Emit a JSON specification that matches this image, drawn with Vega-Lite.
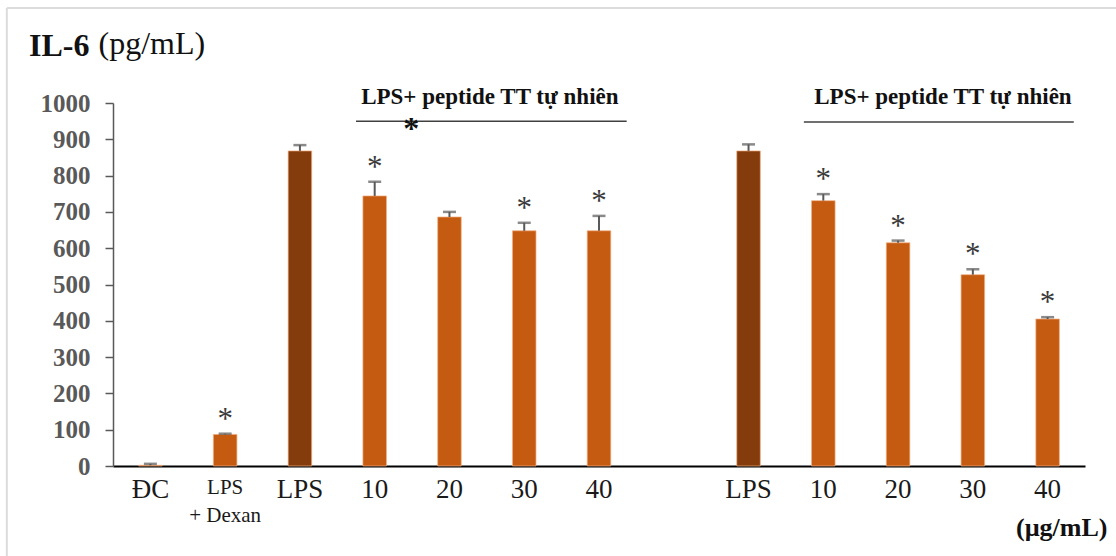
{
  "$schema": "https://vega.github.io/schema/vega-lite/v6.json",
  "width": 972,
  "height": 363,
  "autosize": {"type": "none"},
  "padding": {"left": 113, "top": 103, "right": 31, "bottom": 90},
  "background": "white",
  "config": {
    "view": {"stroke": null},
    "font": "Liberation Serif",
    "axisY": {
      "titleAngle": 0,
      "titleAlign": "left",
      "titleBaseline": "alphabetic",
      "titleX": -15,
      "titleY": -50,
      "titleFont": "Liberation Serif",
      "titleFontSize": 32,
      "titleFontWeight": "normal",
      "titleColor": "#111111",
      "tickCount": 11,
      "format": "d",
      "labelOverlap": false,
      "labelFont": "Liberation Serif",
      "labelFontSize": 25,
      "labelFontWeight": "bold",
      "labelColor": "#595959",
      "labelPadding": 15,
      "tickColor": "#595959",
      "tickSize": 8,
      "tickWidth": 1.5,
      "domainColor": "#595959",
      "domainWidth": 1.5,
      "grid": false
    }
  },
  "title": {
    "text": "IL-6",
    "anchor": "start",
    "frame": "group",
    "font": "Liberation Serif",
    "fontSize": 32,
    "fontWeight": "bold",
    "color": "#111111",
    "dx": -84,
    "offset": -56
  },
  "datasets": {
    "il6": [
      {"k": "DC", "kind": "treat", "v": 2, "hi": 6, "star": ""},
      {"k": "Dex", "kind": "treat", "v": 87, "hi": 89, "star": "*"},
      {"k": "LPS1", "kind": "lps", "v": 868, "hi": 884, "star": ""},
      {"k": "A10", "kind": "treat", "v": 744, "hi": 783, "star": "*"},
      {"k": "A20", "kind": "treat", "v": 686, "hi": 700, "star": ""},
      {"k": "A30", "kind": "treat", "v": 648, "hi": 670, "star": "*"},
      {"k": "A40", "kind": "treat", "v": 648, "hi": 689, "star": "*"},
      {"k": "LPS2", "kind": "lps", "v": 868, "hi": 886, "star": ""},
      {"k": "B10", "kind": "treat", "v": 731, "hi": 749, "star": "*"},
      {"k": "B20", "kind": "treat", "v": 615, "hi": 621, "star": "*"},
      {"k": "B30", "kind": "treat", "v": 527, "hi": 542, "star": "*"},
      {"k": "B40", "kind": "treat", "v": 405, "hi": 410, "star": "*"}
    ],
    "brackets": [
      {"x1": 3.25, "x2": 6.87, "yv": 950, "xc": 5.04, "ty": 1016, "t": "LPS+ peptide TT tự nhiên"},
      {"x1": 9.24, "x2": 12.85, "yv": 948, "xc": 11.1, "ty": 1016, "t": "LPS+ peptide TT tự nhiên"}
    ],
    "bracketStar": [{"xc": 3.99, "yv": 950, "t": "*"}],
    "frame": [
      {"x1": -1.42, "x2": 13.6, "y1": 1262, "y2": 1262},
      {"x1": -1.42, "x2": -1.42, "y1": 1262, "y2": -260}
    ]
  },
  "layer": [
    {
      "data": {"name": "il6"},
      "encoding": {
        "x": {
          "field": "k",
          "type": "nominal",
          "sort": null,
          "scale": {
            "domain": ["DC", "Dex", "LPS1", "A10", "A20", "A30", "A40", "gap", "LPS2", "B10", "B20", "B30", "B40"],
            "paddingInner": 0.685,
            "paddingOuter": 0.3425
          },
          "axis": {
            "title": "(µg/mL)",
            "titleFont": "Liberation Serif",
            "titleFontSize": 26,
            "titleFontWeight": "bold",
            "titleColor": "#111111",
            "titleX": 994,
            "titleY": 69,
            "titleAlign": "right",
            "titleAnchor": null,
            "titleBaseline": "alphabetic",
            "labelAngle": 0,
            "labelOverlap": false,
            "labelExpr": "datum.value == 'Dex' ? ['LPS', '+ Dexan'] : datum.value == 'DC' ? 'ĐC' : datum.value == 'gap' ? '' : indexof(datum.value, 'LPS') == 0 ? 'LPS' : slice(datum.value, 1)",
            "labelFont": "Liberation Serif",
            "labelFontSize": {"condition": {"test": "datum.value == 'Dex'", "value": 21}, "value": 27},
            "labelLineHeight": 28,
            "labelColor": "#1a1a1a",
            "labelPadding": 10,
            "labelBaseline": "top",
            "ticks": false,
            "domainColor": "#000000",
            "domainWidth": 2,
            "grid": false
          }
        }
      },
      "layer": [
        {
          "mark": {"type": "bar", "stroke": "#F4B183", "strokeWidth": 1, "strokeOpacity": 0.7},
          "encoding": {
            "y": {
              "field": "v",
              "type": "quantitative",
              "title": "(pg/mL)",
              "scale": {"domain": [0, 1000], "nice": false}
            },
            "color": {
              "field": "kind",
              "type": "nominal",
              "scale": {"domain": ["lps", "treat"], "range": ["#843C0C", "#C55A11"]},
              "legend": null
            }
          }
        },
        {
          "mark": {"type": "rule", "color": "#595959", "strokeWidth": 2},
          "encoding": {
            "y": {"field": "v", "type": "quantitative", "title": "(pg/mL)"},
            "y2": {"field": "hi"}
          }
        },
        {
          "mark": {"type": "tick", "color": "#595959", "size": 13, "thickness": 2.5, "orient": "horizontal"},
          "encoding": {
            "y": {"field": "hi", "type": "quantitative", "title": "(pg/mL)"}
          }
        },
        {
          "mark": {"type": "text", "font": "Liberation Serif", "fontSize": 31, "color": "#3a3a3a", "baseline": "alphabetic", "dy": -5},
          "encoding": {
            "y": {"field": "hi", "type": "quantitative", "title": "(pg/mL)"},
            "text": {"field": "star"}
          }
        }
      ]
    },
    {
      "layer": [
        {
          "data": {"name": "frame"},
          "mark": {"type": "rule", "color": "#dcdcdc", "strokeWidth": 2},
          "encoding": {
            "x": {"field": "x1", "type": "quantitative", "scale": {"domain": [0, 13], "nice": false, "zero": false}, "axis": null},
            "x2": {"field": "x2"},
            "y": {"field": "y1", "type": "quantitative", "title": "(pg/mL)"},
            "y2": {"field": "y2"}
          }
        },
        {
          "data": {"name": "brackets"},
          "mark": {"type": "rule", "color": "#404040", "strokeWidth": 1.5},
          "encoding": {
            "x": {"field": "x1", "type": "quantitative", "axis": null},
            "x2": {"field": "x2"},
            "y": {"field": "yv", "type": "quantitative", "title": "(pg/mL)"}
          }
        },
        {
          "data": {"name": "brackets"},
          "mark": {"type": "text", "font": "Liberation Serif", "fontSize": 23, "fontWeight": "bold", "color": "#111111", "baseline": "middle", "align": "center"},
          "encoding": {
            "x": {"field": "xc", "type": "quantitative", "axis": null},
            "y": {"field": "ty", "type": "quantitative", "title": "(pg/mL)"},
            "text": {"field": "t"}
          }
        },
        {
          "data": {"name": "bracketStar"},
          "mark": {"type": "text", "font": "Liberation Serif", "fontSize": 32, "fontWeight": "bold", "color": "#111111", "baseline": "alphabetic", "align": "center", "dy": 18},
          "encoding": {
            "x": {"field": "xc", "type": "quantitative", "axis": null},
            "y": {"field": "yv", "type": "quantitative", "title": "(pg/mL)"},
            "text": {"field": "t"}
          }
        }
      ]
    }
  ],
  "resolve": {"scale": {"x": "independent"}}
}
